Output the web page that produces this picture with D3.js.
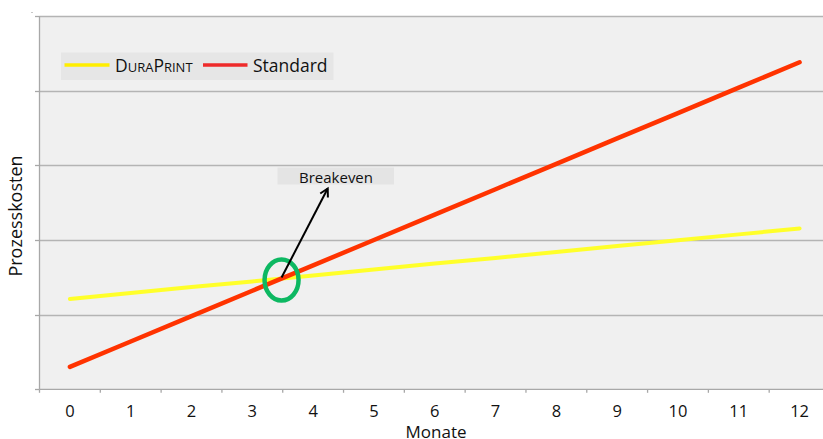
<!DOCTYPE html>
<html>
<head>
<meta charset="utf-8">
<script src="https://cdn.jsdelivr.net/npm/d3@7"></script>
<style>
  html, body { margin: 0; padding: 0; background: #fff; }
  svg { display: block; font-family: "Open Sans", Lato, sans-serif; }
</style>
</head>
<body>
<svg id="chart" width="823" height="439"></svg>
<script>
// Months on the category axis
const months = ["0","1","2","3","4","5","6","7","8","9","10","11","12"];
// Process costs per month
const duraPrint = [24.2, 25.8, 27.4, 28.9, 30.5, 32.1, 33.7, 35.2, 36.8, 38.4, 39.9, 41.5, 43.1];
const standard  = [6.0, 12.8, 19.6, 26.4, 33.2, 40.0, 46.8, 53.6, 60.4, 67.2, 74.0, 80.8, 87.6];
// Value axis gridlines
const yTicks = [0, 20, 40, 60, 80, 100];

const svg = d3.select("#chart");
const plotL = 39.5, plotR = 830, plotT = 16, plotB = 389.3;

const x = d3.scaleBand().domain(months).range([plotL, plotR]).padding(0);
const xc = d => x(d) + x.bandwidth() / 2;
const y = d3.scaleLinear().domain([0, 100]).range([plotB, plotT]);

// plot background
svg.append("rect")
  .attr("x", plotL).attr("y", plotT)
  .attr("width", plotR - plotL).attr("height", plotB - plotT)
  .attr("fill", "#f0f0f0");

// horizontal gridlines
svg.append("g").selectAll("line").data(yTicks.slice(1)).join("line")
  .attr("x1", plotL).attr("x2", plotR)
  .attr("y1", d => Math.round(y(d)) + 0.5).attr("y2", d => Math.round(y(d)) + 0.5)
  .attr("stroke", "#b4b4b4").attr("stroke-width", 1.3);

// value axis: line and small ticks, no labels
svg.append("line")
  .attr("x1", plotL).attr("x2", plotL).attr("y1", plotT).attr("y2", plotB)
  .attr("stroke", "#a8a8a8").attr("stroke-width", 1.3);
svg.append("g").selectAll("line").data(yTicks).join("line")
  .attr("x1", plotL - 4.5).attr("x2", plotL)
  .attr("y1", d => Math.round(y(d)) + 0.5).attr("y2", d => Math.round(y(d)) + 0.5)
  .attr("stroke", "#a8a8a8").attr("stroke-width", 1.3);
svg.append("line")
  .attr("x1", 31).attr("x2", 33).attr("y1", 12.5).attr("y2", 12.5)
  .attr("stroke", "#c8c8c8").attr("stroke-width", 1);

// category axis
const xAxis = d3.axisBottom(x).tickSize(0).tickPadding(0);
const gx = svg.append("g").attr("transform", `translate(0,${plotB})`).call(xAxis);
gx.select(".domain").remove();
gx.selectAll("text")
  .attr("y", 28).attr("dy", 0)
  .attr("font-size", 16.5).attr("fill", "#111")
  .attr("font-family", "'Open Sans', Lato, sans-serif");
svg.append("line")
  .attr("x1", plotL).attr("x2", plotR).attr("y1", plotB).attr("y2", plotB)
  .attr("stroke", "#a8a8a8").attr("stroke-width", 1.3);
svg.append("g").selectAll("line").data(months).join("line")
  .attr("x1", d => x(d)).attr("x2", d => x(d))
  .attr("y1", plotB).attr("y2", plotB + 3.5)
  .attr("stroke", "#a8a8a8").attr("stroke-width", 1.3);

// axis titles
svg.append("text")
  .attr("x", 436).attr("y", 438)
  .attr("text-anchor", "middle").attr("font-size", 17).attr("fill", "#111")
  .text("Monate");
svg.append("text")
  .attr("transform", "translate(22,216) rotate(-90)")
  .attr("text-anchor", "middle").attr("font-size", 18).attr("fill", "#111")
  .text("Prozesskosten");

// series lines
const line = d3.line().x((d, i) => xc(months[i])).y(d => y(d));
svg.append("path").datum(duraPrint)
  .attr("d", line).attr("fill", "none")
  .attr("stroke", "#ffff2a").attr("stroke-width", 4).attr("stroke-linecap", "round");
svg.append("path").datum(standard)
  .attr("d", line).attr("fill", "none")
  .attr("stroke", "#ff3300").attr("stroke-width", 4.5).attr("stroke-linecap", "round");

// legend
const lg = svg.append("g");
lg.append("rect").attr("x", 61).attr("y", 52.5).attr("width", 272.5).attr("height", 27.5).attr("fill", "#e6e6e6");
lg.append("line").attr("x1", 64.5).attr("x2", 109.5).attr("y1", 65).attr("y2", 65)
  .attr("stroke", "#ffee00").attr("stroke-width", 3.5);
const dp = lg.append("text").attr("x", 115).attr("y", 72).attr("font-size", 17.5).attr("fill", "#111");
dp.append("tspan").text("D");
dp.append("tspan").attr("font-size", 13).text("URA");
dp.append("tspan").text("P");
dp.append("tspan").attr("font-size", 13).text("RINT");
lg.append("line").attr("x1", 203).attr("x2", 247.5).attr("y1", 65).attr("y2", 65)
  .attr("stroke", "#ee2a2a").attr("stroke-width", 3.5);
lg.append("text").attr("x", 253).attr("y", 72).attr("font-size", 17.5).attr("fill", "#111").text("Standard");

// breakeven annotation
const be = svg.append("g");
be.append("rect").attr("x", 277.5).attr("y", 167.5).attr("width", 116.5).attr("height", 17).attr("fill", "#e4e4e4");
be.append("text").attr("x", 336).attr("y", 182.5).attr("text-anchor", "middle")
  .attr("font-size", 15).attr("fill", "#111").text("Breakeven");

// crossing point of the two series
const i0 = 3;
const d0 = standard[i0] - duraPrint[i0], d1 = standard[i0 + 1] - duraPrint[i0 + 1];
const t = -d0 / (d1 - d0);
const bx = xc(months[i0]) + t * x.bandwidth();
const by = y(duraPrint[i0] + t * (duraPrint[i0 + 1] - duraPrint[i0]));

svg.append("ellipse")
  .attr("cx", bx).attr("cy", by + 1.5).attr("rx", 17).attr("ry", 20.5)
  .attr("fill", "none").attr("stroke", "#0db862").attr("stroke-width", 4.5);

const ax2 = 327.7, ay2 = 188.5;
svg.append("line")
  .attr("x1", bx).attr("y1", by - 1).attr("x2", ax2).attr("y2", ay2)
  .attr("stroke", "#000").attr("stroke-width", 2);
const ang = Math.atan2(ay2 - (by - 1), ax2 - bx);
const hl = 9, ha = 0.5;
svg.append("path")
  .attr("d", `M${ax2 - hl * Math.cos(ang - ha)},${ay2 - hl * Math.sin(ang - ha)} L${ax2},${ay2} L${ax2 - hl * Math.cos(ang + ha)},${ay2 - hl * Math.sin(ang + ha)}`)
  .attr("fill", "none").attr("stroke", "#000").attr("stroke-width", 2).attr("stroke-linejoin", "miter");
</script>
</body>
</html>
